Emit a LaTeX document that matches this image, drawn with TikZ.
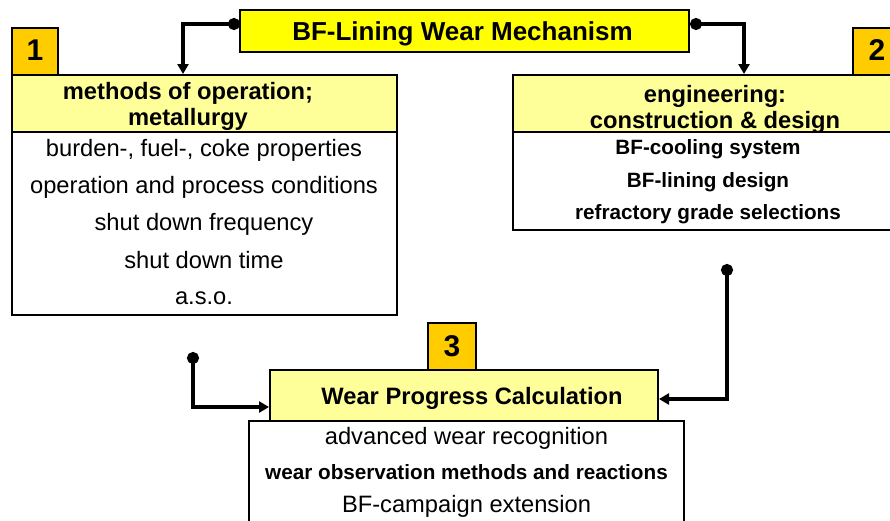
\documentclass[tikz,border=0pt]{standalone}
\usepackage{fontspec}
\setmainfont{Liberation Sans}
\usetikzlibrary{arrows.meta}
\definecolor{titleyellow}{HTML}{FFFF00}
\definecolor{headyellow}{HTML}{FFFF99}
\definecolor{numorange}{HTML}{FFCC00}
\tikzset{
  panel/.style={draw=black, line width=1.6pt, anchor=north west, inner sep=0pt, outer sep=0pt},
  numbox/.style={panel, fill=numorange},
  numtxt/.style={font=\fontsize{30}{30}\selectfont\bfseries, inner sep=0pt},
  headtxt/.style={font=\fontsize{23.7}{26}\selectfont\bfseries, align=center, inner sep=0pt, yshift=-2.5pt},
  bodytxt/.style={font=\fontsize{23.7}{27}\selectfont, inner sep=0pt, yshift=-2pt},
  bodybold/.style={font=\fontsize{20.7}{24}\selectfont\bfseries, inner sep=0pt, yshift=-2pt},
  conn/.style={line width=3.4pt, {Circle[length=12pt]}-{Triangle[length=10pt,width=11pt]}},
}
\begin{document}
\begin{tikzpicture}[x=1pt,y=-1pt]
\useasboundingbox[fill=white] (0,0) rectangle (890,520);

% title
\node[panel, line width=2.4pt, fill=titleyellow, minimum width=449pt, minimum height=42pt] (title) at (240,10) {};
\node[headtxt, font=\fontsize{26}{28}\selectfont\bfseries] (titletxt) at (462.5,31) {BF-Lining Wear Mechanism};

% box 1
\node[numbox, minimum width=46pt, minimum height=47pt] (n1) at (12,28) {};
\node[numtxt] (n1txt) at (35,50) {1};
\node[panel, fill=headyellow, minimum width=385pt, minimum height=57pt] (h1) at (12,75) {};
\node[headtxt] (h1txt) at (188,104) {methods of operation;\\metallurgy};
\node[panel, fill=white, minimum width=385pt, minimum height=183pt] (b1) at (12,132) {};
\node[bodytxt] (b1l1) at (204,148) {burden-, fuel-, coke properties};
\node[bodytxt] (b1l2) at (204,185) {operation and process conditions};
\node[bodytxt] (b1l3) at (204,222) {shut down frequency};
\node[bodytxt] (b1l4) at (204,258) {shut down time};
\node[bodytxt] (b1l5) at (204,296) {a.s.o.};

% box 2
\node[numbox, minimum width=48pt, minimum height=47pt] (n2) at (853,28) {};
\node[numtxt] (n2txt) at (877,50) {2};
\node[panel, fill=headyellow, minimum width=406pt, minimum height=57pt] (h2) at (513,75) {};
\node[headtxt] (h2txt) at (715,107) {engineering:\\construction \& design};
\node[panel, fill=white, minimum width=406pt, minimum height=98pt] (b2) at (513,132) {};
\node[bodybold] (b2l1) at (708,147) {BF-cooling system};
\node[bodybold] (b2l2) at (708,180) {BF-lining design};
\node[bodybold] (b2l3) at (708,212) {refractory grade selections};

% box 3
\node[numbox, minimum width=48pt, minimum height=47pt] (n3) at (428,323) {};
\node[numtxt] (n3txt) at (452,346) {3};
\node[panel, fill=headyellow, minimum width=388pt, minimum height=51pt] (h3) at (270,370) {};
\node[headtxt] (h3txt) at (472,396) {Wear Progress Calculation};
\node[panel, fill=white, minimum width=435pt, minimum height=130pt] (b3) at (249,421) {};
\node[bodytxt] (b3l1) at (466.5,436) {advanced wear recognition};
\node[bodybold] (b3l2) at (466.5,470) {wear observation methods and reactions};
\node[bodytxt] (b3l3) at (466.5,504) {BF-campaign extension};

% connectors
\coordinate (s1) at (240,24);
\coordinate (a1) at (183,74);
\coordinate (s2) at (690,24);
\coordinate (a2) at (744,74);
\coordinate (s3) at (193,352);
\coordinate (a3) at (269,407);
\coordinate (s4) at (727,264);
\coordinate (a4) at (659,399);
\draw[conn] (s1) -| (a1);
\draw[conn] (s2) -| (a2);
\draw[conn] (s3) |- (a3);
\draw[conn] (s4) |- (a4);
\end{tikzpicture}
\end{document}
